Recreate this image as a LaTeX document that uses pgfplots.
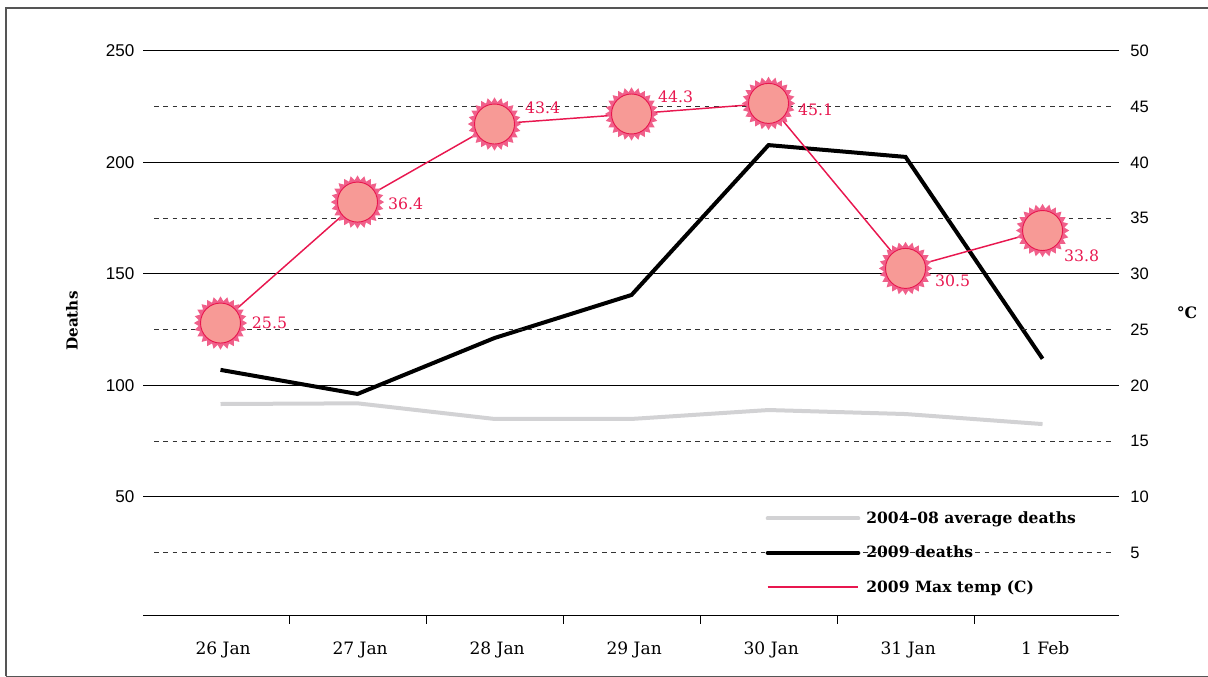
\documentclass[border=0pt]{standalone}
\usepackage{fontspec}
\usepackage{pgfplots}
\pgfplotsset{compat=1.18}
\usetikzlibrary{plotmarks}
\setmainfont{DejaVu Serif}
\newfontfamily\numfont{Liberation Sans}
\definecolor{crim}{HTML}{E8174F}
\definecolor{spike}{HTML}{F0608A}
\definecolor{sunfill}{HTML}{F79A96}
\definecolor{avggrey}{HTML}{D2D2D4}
\definecolor{framegrey}{HTML}{555555}

% sun marker: spiky ring with a disc on top
\pgfdeclareplotmark{sun}{%
  \pgfsetfillcolor{spike}%
  \pgfpathmoveto{\pgfpointpolar{0}{20pt}}%
  \foreach \a in {1,...,47} {%
    \pgfmathsetmacro\t{\a*7.5}%
    \pgfmathsetmacro\r{isodd(\a)?16.5:20}%
    \pgfpathlineto{\pgfpointpolar{\t}{\r pt}}%
  }%
  \pgfpathclose
  \pgfusepath{fill}%
  \pgfsetfillcolor{sunfill}%
  \pgfsetstrokecolor{crim}%
  \pgfsetlinewidth{0.7pt}%
  \pgfpathcircle{\pgfpointorigin}{15pt}%
  \pgfusepath{fill,stroke}%
}

\pgfplotsset{
  common/.style={
    scale only axis,
    width=732pt, height=423.75pt,
    at={(107.25pt,45.75pt)}, anchor=south west,
    xmin=-0.5657, xmax=6.558,
  },
}

\begin{document}
\begin{tikzpicture}
\useasboundingbox (0,0) rectangle (906pt,507.75pt);
\draw[framegrey, line width=0.9pt] (4.5pt,0.4pt) -- (4.5pt,501.75pt) -- (906pt,501.75pt);
\draw[framegrey, line width=0.9pt] (4.5pt,0.6pt) -- (906pt,0.6pt);

\begin{axis}[
    common,
    ymin=-3.36, ymax=250,
    axis x line*=bottom, axis y line*=left,
    y axis line style={draw=none},
    ytick={50,100,150,200,250},
    ytick style={draw=none},
    ymajorgrids,
    major grid style={black, line width=0.75pt},
    xtick={0,1,2,3,4,5,6},
    xticklabels={26 Jan,27 Jan,28 Jan,29 Jan,30 Jan,31 Jan,1 Feb},
    minor xtick={0.5,1.5,2.5,3.5,4.5,5.5},
    major tick length=0pt,
    minor tick length=6pt,
    tick align=outside,
    x axis line style={line width=0.75pt},
    minor tick style={black, line width=0.75pt},
    xticklabel style={font=\fontsize{12.8}{14}\selectfont, yshift=-15.5pt, xshift=2pt},
    yticklabel style={font=\numfont\fontsize{12.8}{14}\selectfont, xshift=-3pt},
    /pgf/number format/assume math mode=true,
    ylabel={\bfseries Deaths},
    every axis y label/.style={at={(axis description cs:-0.0727,0.522)}, rotate=90, anchor=center, font=\fontsize{11.4}{13}\selectfont},
]
\addplot[avggrey, line width=3pt] coordinates {
  (0,91.7) (1,92) (2,85) (3,85) (4,89) (5,87.2) (6,82.7)
};
\addplot[black, line width=3pt] coordinates {
  (0,107) (1,96.2) (2,121.3) (3,140.6) (4,207.8) (5,202.5) (6,112)
};
\end{axis}

\begin{axis}[
    common,
    ymin=-0.672, ymax=50,
    axis x line=none, axis y line*=right,
    y axis line style={draw=none},
    ytick={5,10,15,20,25,30,35,40,45,50},
    ytick style={draw=none},
    major tick length=0pt,
    yticklabel style={font=\numfont\fontsize{12.4}{14}\selectfont, xshift=5pt},
    /pgf/number format/assume math mode=true,
    ylabel={\bfseries \textdegree C},
    every axis y label/.style={at={(axis description cs:1.0697,0.536)}, anchor=center, font=\fontsize{11.8}{13}\selectfont},
    legend style={
      at={(axis description cs:0.6377,0.1853)}, anchor=north west,
      draw=none, fill=none,
      font=\bfseries\fontsize{11.66}{13}\selectfont,
      row sep=15.5pt, inner sep=0pt, nodes={inner sep=0pt},
    },
    legend cell align=left,
    legend image code/.code={\draw[#1] (0,0) -- (68pt,0); \path (72.5pt,0);},
]
\addlegendimage{avggrey, line width=3pt, line cap=round}
\addlegendentry{2004--08 average deaths}
\addlegendimage{black, line width=3pt, line cap=round}
\addlegendentry{2009 deaths}
\addlegendimage{crim, solid, line width=1.6pt}
\addlegendentry{2009 Max temp (C)}

\pgfplotsinvokeforeach{5,15,25,35,45}{
  \addplot[forget plot, black!80, line width=0.7pt, dash pattern=on 3.4pt off 3.6pt]
    coordinates {(-0.485,#1) (6.507,#1)};
}
\addplot[forget plot, crim, line width=1.1pt,
    mark=sun,
    point meta=explicit symbolic,
    visualization depends on={\thisrow{dx}\as\dx},
    visualization depends on={\thisrow{dy}\as\dy},
    nodes near coords,
    nodes near coords style={anchor=center, text=crim, inner sep=0pt,
      font=\fontsize{11.8}{13}\selectfont,
      xshift=\dx*0.75pt, yshift=\dy*0.75pt},
  ] table[meta=label] {
  x  y      label  dx  dy
  0  25.6   25.5   49  0
  1  36.45  36.4   48  -2
  2  43.45  43.4   48  16
  3  44.35  44.3   44  17
  4  45.3   45.1   47  -6
  5  30.5   30.5   47  -12
  6  33.9   33.8   39  -25
};
\end{axis}
\end{tikzpicture}
\end{document}
